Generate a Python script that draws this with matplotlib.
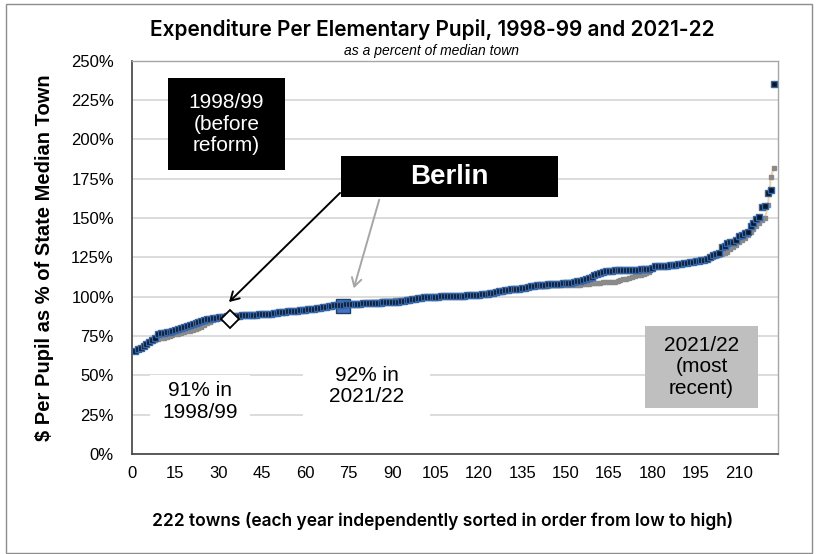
import matplotlib
matplotlib.use('Agg')
import matplotlib.pyplot as plt
import numpy as np
from matplotlib.transforms import Affine2D
from matplotlib.patches import Rectangle, FancyArrowPatch

# spending per pupil as % of state median town, each year sorted low -> high
spend_1998 = [
    65.5, 66.5, 67.5, 68.5, 70, 71, 72, 72.5,
    73, 73.5, 74, 74.5, 75, 75.5, 76, 76.5, 77, 77.5, 78, 78.5, 79, 79.5, 80, 81, 82, 83, 84, 85, 86, 86.5,
    87.2, 87.4, 87.6, 87.7, 87.8, 87.9, 88, 88.1, 88.2, 88.3, 88.4, 88.5, 88.6, 88.7, 88.8, 89, 89.1, 89.3, 89.5, 89.7,
    90, 90.2, 90.4, 90.6, 90.8, 91, 91.2, 91.4, 91.6, 91.8, 92, 92.2, 92.4, 92.6, 92.9, 93.2, 93.5, 93.8, 94.1, 94.4,
    94.6, 94.8, 95, 95.1, 95.2, 95.3, 95.4, 95.5, 95.6, 95.8, 96, 96.2, 96.4, 96.6, 96.8, 97, 97.2, 97.3, 97.4, 97.5, 97.6, 97.7, 97.8,
    98, 98.2, 98.4, 98.6, 98.8, 99.1, 99.4, 99.7, 100,
    100, 100, 100.1, 100.1, 100.2, 100.2, 100.3, 100.3, 100.4, 100.5, 100.5, 100.6, 100.7, 100.8, 100.9, 101, 101.1, 101.3, 101.5, 101.8, 102, 102.3, 102.6,
    102.5, 102.8, 103.1, 103.5, 104, 104.4, 104.7, 104.9, 105.1, 105.4, 105.8, 106.2, 106.5, 106.7, 106.8,
    107, 107, 107.1, 107.1, 107.2, 107.2, 107.2, 107.3, 107.3, 107.4, 107.4, 107.5, 107.5, 107.6, 107.7, 107.8,
    108, 108.2, 108.4, 108.6, 108.8, 109, 109.1, 109.2, 109.3, 109.4, 109.5, 110, 110.5, 111, 111.5, 112, 112.5, 113, 113.5, 114, 114.5, 115, 116, 117.5, 119,
    119.5, 119.6, 119.7, 119.8, 119.9, 120, 120.2, 120.5, 121, 121.3, 121.6, 121.9, 122.2, 122.5, 122.8, 123.2, 123.5, 123.8,
    124.5, 125.5, 126, 126.5, 127, 128, 128.6, 130, 131.5, 133, 134.5, 136, 137.5, 139, 141, 143, 145, 147, 148.5, 150, 158, 176, 182,
]
spend_2122 = [
    65.5, 66.5, 67.5, 68.5, 70, 71, 72.5, 73.5,
    76.5, 76.8, 77, 77.3, 77.8, 78.3, 79, 79.5, 80, 80.8, 81.5, 82, 82.8, 83.5,
    84, 84.5, 85, 85.5, 86, 86.4, 86.7, 87,
    87.2, 87.4, 87.6, 87.7, 87.8, 87.9, 88, 88.1, 88.2, 88.3, 88.4, 88.5, 88.6, 88.7, 88.8, 89, 89.1, 89.3, 89.5, 89.7,
    90, 90.2, 90.4, 90.6, 90.8, 91, 91.2, 91.4, 91.6, 91.8, 92, 92.2, 92.4, 92.6, 92.9, 93.2, 93.5, 93.8, 94.1, 94.4,
    94.6, 94.8, 95, 95.1, 95.2, 95.3, 95.4, 95.5, 95.6, 95.7, 95.8, 95.9, 96, 96.1, 96.2, 96.3, 96.4, 96.5, 96.6, 96.7, 96.8, 96.9, 97,
    97.5, 97.8, 98, 98.3, 98.6, 99, 99.3, 99.6, 100,
    100, 100, 100.1, 100.1, 100.2, 100.2, 100.3, 100.3, 100.4, 100.5, 100.5, 100.6, 100.7, 100.8, 100.9, 101, 101.1, 101.3, 101.5, 101.8, 102, 102.3, 102.6,
    103, 103.4, 103.8, 104.2, 104.5, 104.7, 104.8, 104.9, 105, 105.2, 105.5, 106, 106.5, 107, 107.4,
    107.5, 107.6, 107.7, 107.8, 107.9, 108, 108.1, 108.2, 108.4, 108.6, 108.8, 109, 109.3, 109.7, 110.2, 110.6,
    111.2, 112, 112.8, 113.6, 114.4, 115.2, 115.8, 116.3, 116.5,
    116.6, 116.7, 116.8, 116.9, 117, 117, 117.1, 117.1, 117.2, 117.2, 117.3, 117.3, 117.4, 117.5, 118.5, 119.3,
    119.5, 119.6, 119.7, 119.8, 119.9, 120, 120.2, 120.5, 121, 121.3, 121.6, 121.9, 122.2, 122.5, 122.8, 123.2, 123.5, 123.8,
    125, 126.5, 127, 128, 131.5, 132.5, 134, 134.5, 135, 136, 138.5, 139.5, 140.3, 141, 145, 146.6, 149.5, 150.9, 157, 157.5, 166, 167.5, 235.5,
]
assert len(spend_1998) == 222 and len(spend_2122) == 222, (len(spend_1998), len(spend_2122))
towns = np.arange(1, 223)

# Berlin's rank and value in each year
berlin_1998 = (34, 85.5)
berlin_2122 = (73, 94)

x_ticks = list(range(0, 211, 15))
y_ticks = list(range(0, 251, 25))

W, H = 826, 554
fig = plt.figure(figsize=(W / 100, H / 100), dpi=100)
ax = fig.add_axes([132 / W, 1 - 454 / H, (778 - 132) / W, (454 - 60.7) / H])
# pixel coords, origin top-left, for the boxes and arrows
px = Affine2D().scale(1 / W, -1 / H).translate(0, 1) + fig.transFigure

# outer frame
fig.patches.append(Rectangle((6, 4), 806, 549, transform=px, fill=False,
                             edgecolor='#8c8c8c', lw=1))

ax.plot(towns, spend_1998, color='#F8D3A0', lw=1.5, marker='s', ms=2.4,
        mfc='#8a8a8a', mec='#8a8a8a', zorder=3)
ax.plot(berlin_2122[0], berlin_2122[1], marker='s', ms=10, mfc='#4472C4',
        mec='#1f3f66', mew=1, zorder=3.5)
ax.plot(towns, spend_2122, ls='none', marker='s', ms=4.2,
        mfc='#0d1626', mec='#3566A8', mew=1.0, zorder=4)
ax.plot(berlin_1998[0], berlin_1998[1], marker='D', ms=9, mfc='white',
        mec='black', mew=1.3, zorder=5)

ax.set_xlim(0, 223.5)
ax.set_ylim(0, 250)
ax.set_xticks(x_ticks)
ax.set_yticks(y_ticks)
ax.set_yticklabels([f'{v}%' for v in y_ticks])
ax.tick_params(length=0, labelsize=12)
ax.tick_params(axis='y', pad=13)
ax.tick_params(axis='x', pad=9)
for lab in ax.get_xticklabels() + ax.get_yticklabels():
    lab.set_fontfamily('Liberation Sans')
ax.grid(axis='y', color='#d9d9d9', lw=1.3)
ax.set_axisbelow(True)
for s in ['left', 'bottom']:
    ax.spines[s].set_color('#404040')
    ax.spines[s].set_linewidth(1.2)
for s in ['top', 'right']:
    ax.spines[s].set_color('#a6a6a6')
    ax.spines[s].set_linewidth(1)

fig.text(432, 30, 'Expenditure Per Elementary Pupil, 1998-99 and 2021-22', transform=px,
         ha='center', va='center', fontsize=15, fontweight='semibold', family='Inter')
fig.text(432, 51, 'as a percent of median town', transform=px, ha='center', va='center',
         fontsize=10, style='italic', family='Liberation Sans')
fig.text(443, 521, '222 towns (each year independently sorted in order from low to high)',
         transform=px, ha='center', va='center', fontsize=12.5, fontweight='semibold', family='Inter')
fig.text(45, 258, '\\$ Per Pupil as % of State Median Town', transform=px, rotation=90,
         ha='center', va='center', fontsize=14.5, fontweight='bold', family='Liberation Sans')

def box(x0, y0, x1, y1, color, text, tcolor, size, weight='normal'):
    fig.patches.append(Rectangle((x0, y0), x1 - x0, y1 - y0, transform=px,
                                 facecolor=color, edgecolor='none', zorder=6))
    fig.text((x0 + x1) / 2, (y0 + y1) / 2, text, transform=px, ha='center', va='center',
             color=tcolor, fontsize=size, fontweight=weight, family='Liberation Sans',
             linespacing=1.15, zorder=7)

box(168, 78, 285, 170, 'black', '1998/99\n(before\nreform)', 'white', 15)
box(341, 156, 558, 197, 'black', 'Berlin', 'white', 20, 'bold')
box(645, 326, 758, 408, '#bfbfbf', '2021/22\n(most\nrecent)', 'black', 15)
box(150, 375, 250, 428, 'white', '91% in\n1998/99', 'black', 15)
box(303, 352, 430, 420, 'white', '92% in\n2021/22', 'black', 15)

for (p0, p1, c) in [((342, 191), (227, 304), 'black'), ((380, 197), (353, 291), '#a6a6a6')]:
    fig.patches.append(FancyArrowPatch(p0, p1, transform=px, arrowstyle='->,head_length=6,head_width=3.5',
                                       color=c, lw=1.4, zorder=8))

fig.savefig('out.png', dpi=100)
